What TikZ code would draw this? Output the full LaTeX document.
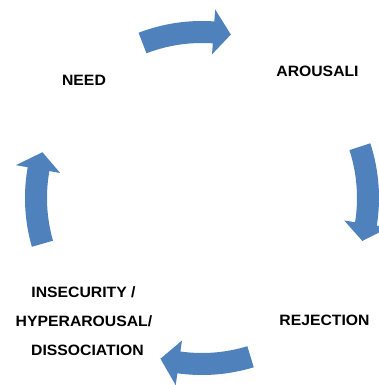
\documentclass[tikz,border=0pt]{standalone}
\usepackage{fontspec}
\setmainfont{Liberation Sans}[FakeStretch=1.05]
\definecolor{cycleblue}{HTML}{4F81BD}
\tikzset{
  cyclearrow/.style={fill=cycleblue, draw=none},
  label/.style={font=\fontsize{15}{18}\selectfont\bfseries, anchor=base, inner sep=0pt}
}
% #1 tail angle, #2 head base angle, #3 tip angle
\newcommand{\cyclearrowdraw}[3]{%
  \fill[cyclearrow, shift={(202pt,187pt)}]
    (#1:177pt) arc[start angle=#1, end angle=#2, radius=177pt]
    -- (#2:189pt) -- (#3:166pt) -- (#2:144pt) -- (#2:155pt)
    arc[start angle=#2, end angle=#1, radius=155pt] -- cycle;}
\begin{document}
\begin{tikzpicture}[x=1pt,y=1pt]
\useasboundingbox (0,0) rectangle (379,385);
\cyclearrowdraw{111}{86}{80}
\cyclearrowdraw{18}{-9}{-15}
\cyclearrowdraw{-73}{-98}{-104.5}
\cyclearrowdraw{196}{170}{164}
\node[label] (need) at (84,299) {NEED};
\node[label] (arousal) at (317.5,308) {AROUSALI};
\node[label] (insec1) at (83.5,87) {INSECURITY /};
\node[label] (insec2) at (84,58) {HYPERAROUSAL/};
\node[label] (insec3) at (87.5,29) {DISSOCIATION};
\node[label] (reject) at (324.5,59) {REJECTION};
\end{tikzpicture}
\end{document}
